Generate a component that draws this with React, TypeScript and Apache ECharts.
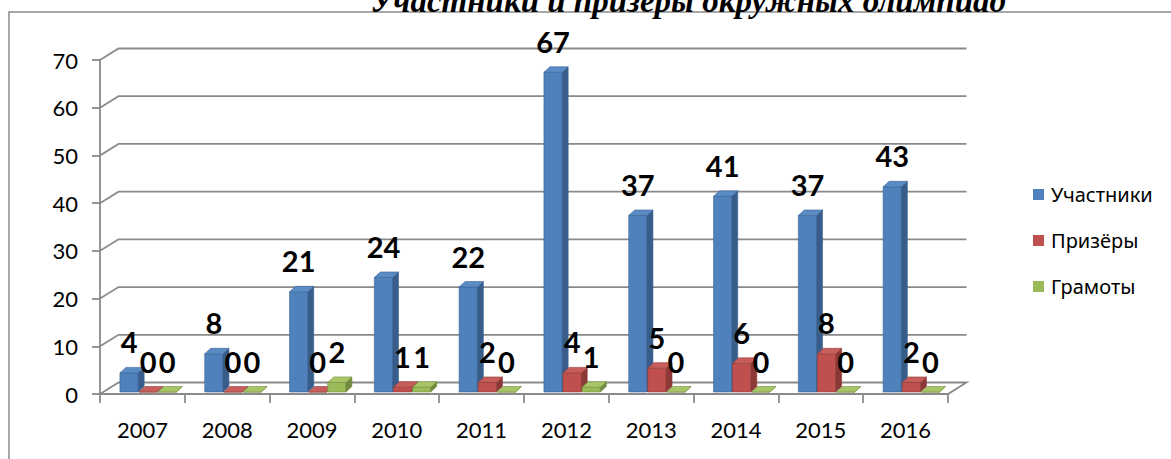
import React, { useEffect, useRef } from "react";
import * as echarts from "echarts";

const YEARS = ["2007", "2008", "2009", "2010", "2011", "2012", "2013", "2014", "2015", "2016"];
const PARTICIPANTS = [4, 8, 21, 24, 22, 67, 37, 41, 37, 43];
const WINNERS = [0, 0, 0, 1, 2, 4, 5, 6, 8, 2];
const CERTIFICATES = [0, 0, 2, 1, 0, 1, 0, 0, 0, 0];
const Y_TICKS = [0, 10, 20, 30, 40, 50, 60, 70];
const SERIES_NAMES = ["Участники", "Призёры", "Грамоты"];
const TITLE = "Участники и призеры окружных олимпиад";

const GRID_COLOR = "#8a8a8a";
const WDX = 18.5;
const WDY = -11.5;
const BDX = 6;
const BDY = -5.5;

const PALETTE = [
  { front: "#4F81BD", side: "#385D8A", top: "#5B8BC5", edge: "#3A6395" },
  { front: "#C0504D", side: "#8C3836", top: "#C85E5B", edge: "#943C3A" },
  { front: "#9BBB59", side: "#71893F", top: "#A7C566", edge: "#76913F" },
];
const OFFSETS = [0.235, 0.46, 0.685];

function makeBarRender(k: number) {
  const c = PALETTE[k];
  return (params: any, api: any) => {
    const idx = api.value(0);
    const v = api.value(1);
    const base = api.coord([idx, 0]);
    const topP = api.coord([idx, v]);
    const bw = api.size([1, 0])[0];
    const w = bw * 0.215;
    const x0 = base[0] - bw / 2 + OFFSETS[k] * bw;
    const x1 = x0 + w;
    const yb = base[1] - 2;
    const yt = topP[1] - 2;
    return {
      type: "group",
      children: [
        {
          type: "rect",
          shape: { x: x0, y: yt, width: w, height: Math.max(0, yb - yt) },
          style: { fill: c.front, stroke: c.edge, lineWidth: 0.6 },
        },
        {
          type: "polygon",
          shape: { points: [[x1, yt], [x1 + BDX, yt + BDY], [x1 + BDX, yb + BDY], [x1, yb]] },
          style: { fill: c.side, stroke: c.edge, lineWidth: 0.6 },
        },
        {
          type: "polygon",
          shape: { points: [[x0, yt], [x0 + BDX, yt + BDY], [x1 + BDX, yt + BDY], [x1, yt]] },
          style: { fill: c.top, stroke: c.edge, lineWidth: 0.6 },
        },
        {
          type: "text",
          x: x0 + w / 2,
          y: yt - 31,
          style: {
            text: String(v),
            fontFamily: "Lato",
            fontWeight: "bold",
            fontSize: 29,
            fill: "#000",
            align: "center",
            verticalAlign: "middle",
            textAlign: "center",
            textVerticalAlign: "middle",
          },
        },
      ],
    };
  };
}

function wallRender(params: any, api: any) {
  const v = api.value(1);
  const cs = params.coordSys;
  const x0 = cs.x;
  const W = cs.width;
  const y = api.coord([0, v])[1];
  const children: any[] = [];
  if (v === 0) {
    children.push({
      type: "polygon",
      shape: { points: [[x0, y], [x0 + W, y], [x0 + W + WDX, y + WDY], [x0 + WDX, y + WDY]] },
      style: { fill: "#ffffff", stroke: GRID_COLOR, lineWidth: 1.8 },
    });
  } else {
    children.push({
      type: "polyline",
      shape: { points: [[x0, y], [x0 + WDX, y + WDY], [x0 + W + WDX, y + WDY]] },
      style: { fill: "none", stroke: GRID_COLOR, lineWidth: 1.8 },
    });
  }
  return { type: "group", children };
}

export default function App() {
  const ref = useRef<HTMLDivElement>(null);
  useEffect(() => {
    if (!ref.current) return;
    const chart = echarts.init(ref.current, undefined, { renderer: "svg" });
    const seriesData = [PARTICIPANTS, WINNERS, CERTIFICATES];
    chart.setOption({
      animation: false,
      backgroundColor: "#ffffff",
      grid: { left: 100, right: 223, top: 60, bottom: 65 },
      legend: {
        orient: "vertical",
        left: 1033,
        top: 184,
        padding: 0,
        itemWidth: 11,
        itemHeight: 11,
        itemGap: 25,
        icon: "rect",
        data: SERIES_NAMES,
        textStyle: { fontFamily: "Noto Sans", fontSize: 20, lineHeight: 21, color: "#000", padding: [0, 0, 0, 2] },
      },
      xAxis: {
        type: "category",
        data: YEARS,
        boundaryGap: true,
        axisLine: { show: true, lineStyle: { color: GRID_COLOR, width: 1.8 } },
        axisTick: { show: true, length: 9, lineStyle: { color: GRID_COLOR, width: 1.8 } },
        axisLabel: { fontFamily: "Lato", fontSize: 22, color: "#000", margin: 24 },
        splitLine: { show: false },
      },
      yAxis: {
        type: "value",
        min: 0,
        max: 70,
        interval: 10,
        axisLine: { show: true, lineStyle: { color: GRID_COLOR, width: 1.8 } },
        axisTick: { show: true, length: 8, lineStyle: { color: GRID_COLOR, width: 1.8 } },
        axisLabel: { fontFamily: "Lato", fontSize: 22, color: "#000", margin: 22 },
        splitLine: { show: false },
      },
      graphic: [
        {
          type: "rect",
          z: -1,
          shape: { x: 9, y: 12, width: 1400, height: 600 },
          style: { fill: "none", stroke: "#8a8a8a", lineWidth: 1.5 },
        },
        {
          type: "text",
          x: 688,
          y: 17,
          style: {
            text: TITLE,
            fontFamily: "Liberation Serif",
            fontStyle: "italic",
            fontWeight: "bold",
            fontSize: 33,
            fill: "#000",
            align: "center",
            verticalAlign: "bottom",
            textAlign: "center",
            textVerticalAlign: "bottom",
          },
        },
      ],
      series: [
        {
          type: "custom",
          name: "wall",
          z: 1,
          silent: true,
          renderItem: wallRender,
          data: Y_TICKS.map((v) => [0, v]),
        },
        ...SERIES_NAMES.map((name, k) => ({
          type: "custom",
          name,
          z: 2 + k,
          itemStyle: { color: PALETTE[k].front },
          renderItem: makeBarRender(k),
          data: seriesData[k].map((v, i) => [i, v]),
        })),
      ],
    });
    return () => chart.dispose();
  }, []);
  return (
    <div
      ref={ref}
      style={{ position: "absolute", left: 0, top: 0, width: 1171, height: 459, background: "#fff" }}
    />
  );
}
